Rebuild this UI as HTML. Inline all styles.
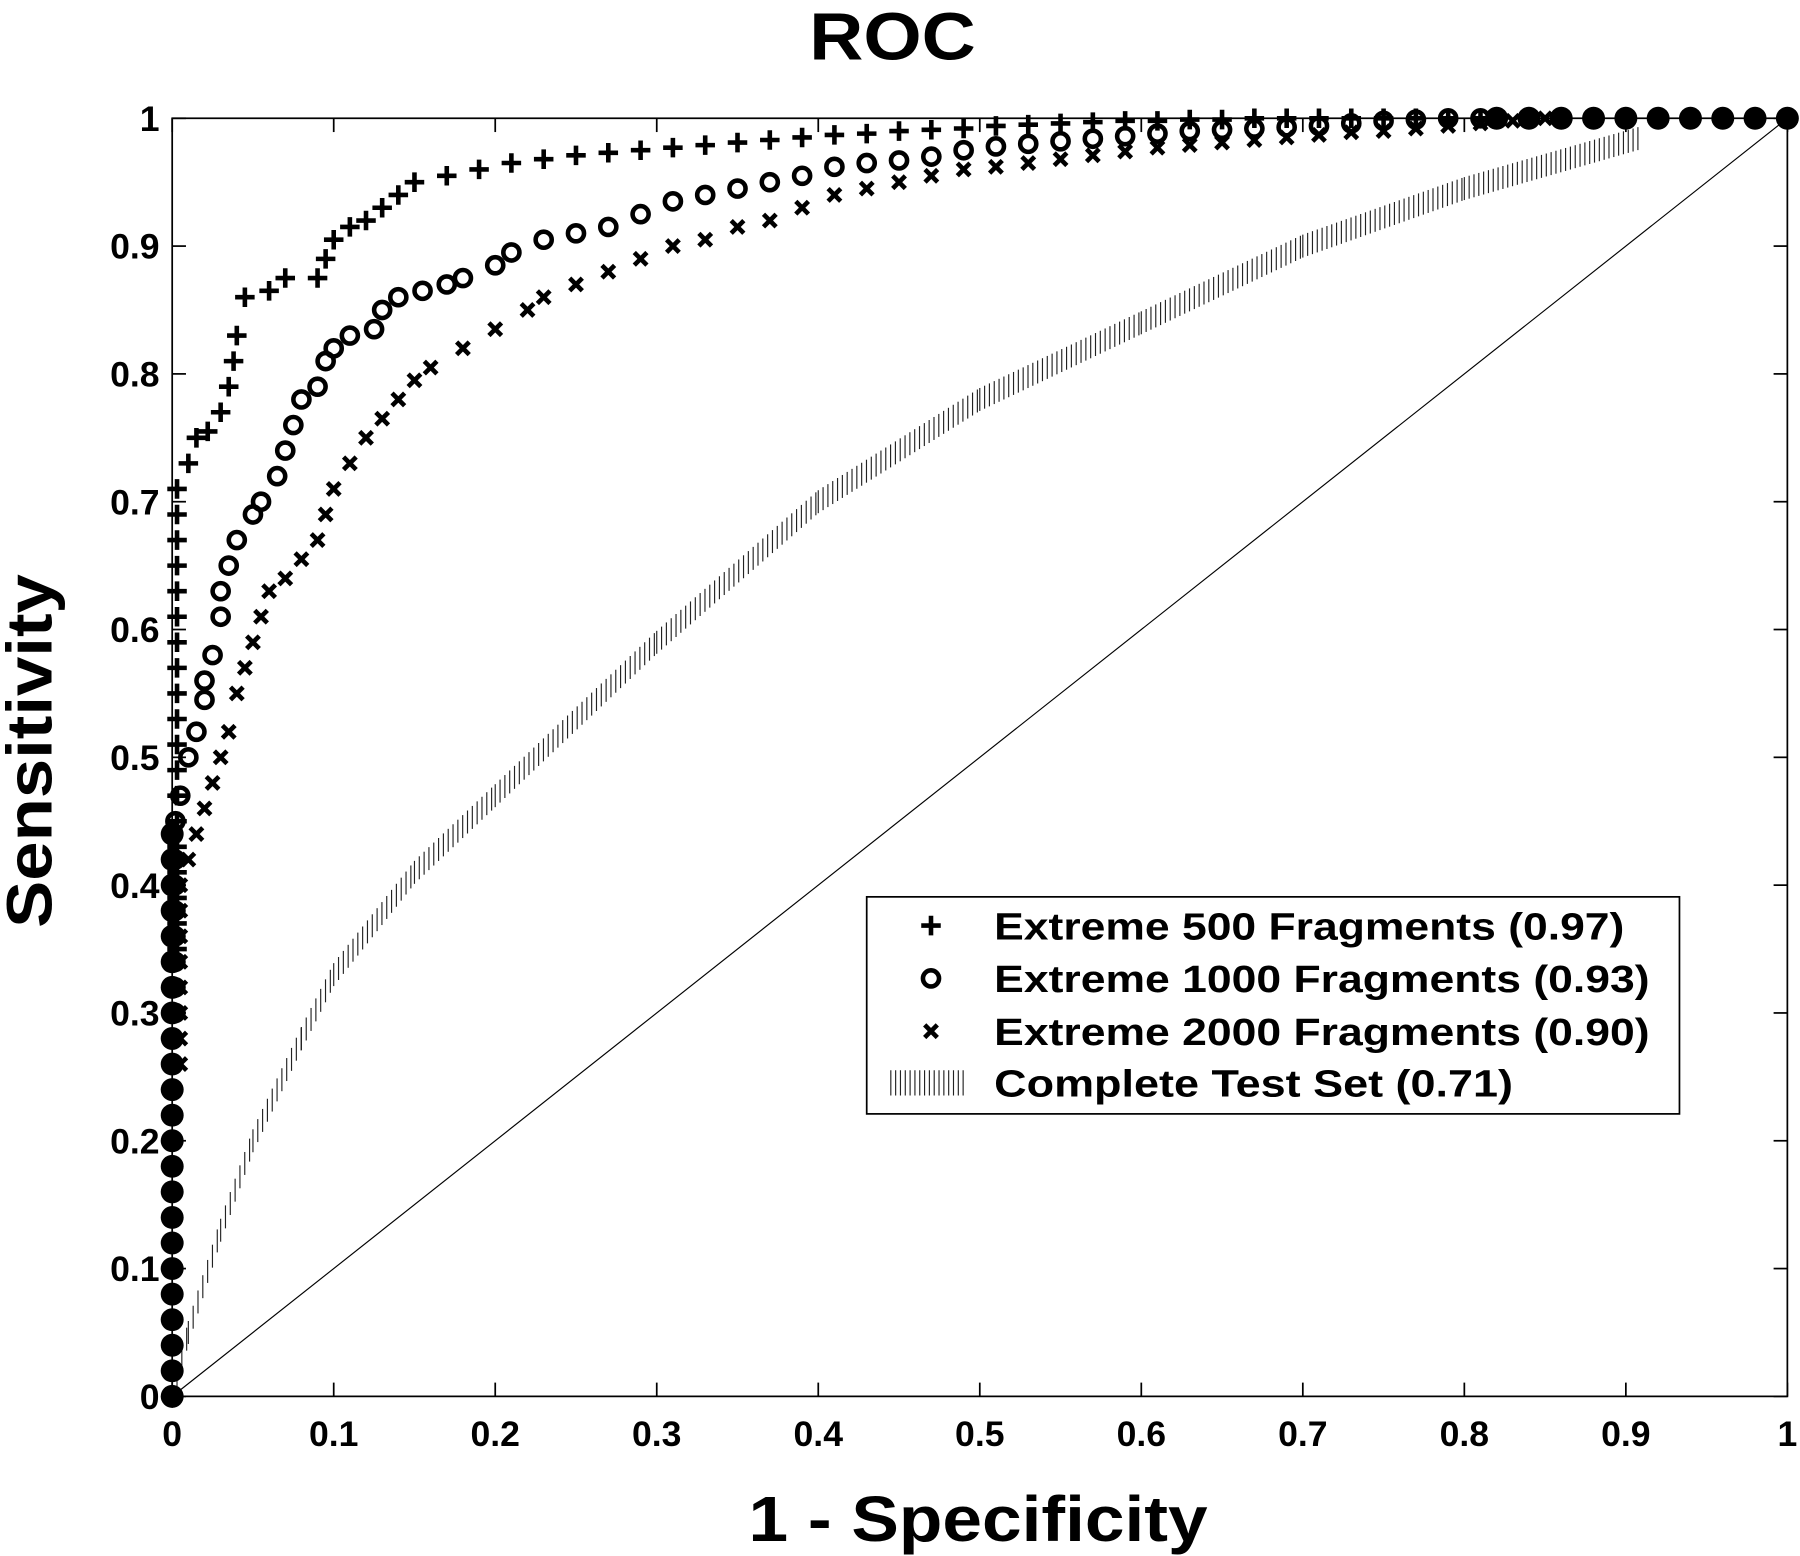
<!DOCTYPE html>
<html><head><meta charset="utf-8"><style>
html,body{margin:0;padding:0;background:#fff;}
svg{display:block;}
text{font-family:"Liberation Sans",Arial,sans-serif;font-weight:bold;fill:#000;}
</style></head><body>
<svg id="chart" width="1800" height="1556" viewBox="0 0 1568 1355" preserveAspectRatio="none" xmlns="http://www.w3.org/2000/svg">
<text x="705" y="52" font-size="58" textLength="145" lengthAdjust="spacingAndGlyphs">ROC</text>
<text x="652" y="1342" font-size="56" textLength="400" lengthAdjust="spacingAndGlyphs">1 - Specificity</text>
<text transform="translate(45,808) rotate(-90)" font-size="56" textLength="308" lengthAdjust="spacingAndGlyphs">Sensitivity</text>
<g id="axes"></g>
<g id="marks"></g>
<g>
<rect x="755" y="781" width="708" height="189" fill="#fff" stroke="#000" stroke-width="1.5"/>
<g id="legend-icons"></g>
<text x="866" y="818" font-size="33" textLength="549" lengthAdjust="spacingAndGlyphs">Extreme 500 Fragments (0.97)</text>
<text x="866" y="864" font-size="33" textLength="571" lengthAdjust="spacingAndGlyphs">Extreme 1000 Fragments (0.93)</text>
<text x="866" y="910" font-size="33" textLength="571" lengthAdjust="spacingAndGlyphs">Extreme 2000 Fragments (0.90)</text>
<text x="866" y="955" font-size="33" textLength="452" lengthAdjust="spacingAndGlyphs">Complete Test Set (0.71)</text>
</g>
</svg>
<script>
const xTicks=[0,0.1,0.2,0.3,0.4,0.5,0.6,0.7,0.8,0.9,1];
const xTickLabels=["0","0.1","0.2","0.3","0.4","0.5","0.6","0.7","0.8","0.9","1"];
const yTicks=[0,0.1,0.2,0.3,0.4,0.5,0.6,0.7,0.8,0.9,1];
const yTickLabels=["0","0.1","0.2","0.3","0.4","0.5","0.6","0.7","0.8","0.9","1"];
const s500x=[0.003,0.003,0.003,0.003,0.003,0.003,0.003,0.003,0.003,0.003,0.003,0.003,0.003,0.003,0.003,0.003,0.003,0.003,0.003,0.01,0.015,0.022,0.03,0.035,0.038,0.04,0.045,0.06,0.07,0.09,0.095,0.1,0.11,0.12,0.13,0.14,0.15,0.17,0.19,0.21,0.23,0.25,0.27,0.29,0.31,0.33,0.35,0.37,0.39,0.41,0.43,0.45,0.47,0.49,0.51,0.53,0.55,0.57,0.59,0.61,0.63,0.65,0.67,0.69,0.71,0.73,0.75,0.77,0.79,0.81];
const s500y=[0.35,0.37,0.39,0.41,0.43,0.45,0.47,0.49,0.51,0.53,0.55,0.57,0.59,0.61,0.63,0.65,0.67,0.69,0.71,0.73,0.75,0.755,0.77,0.79,0.81,0.83,0.86,0.865,0.875,0.875,0.89,0.905,0.915,0.92,0.93,0.94,0.95,0.955,0.96,0.965,0.968,0.971,0.973,0.975,0.977,0.979,0.981,0.983,0.985,0.987,0.988,0.99,0.991,0.992,0.994,0.995,0.996,0.997,0.998,0.998,0.999,0.999,1,1,1,1,1,1,1,1];
const s1000x=[0.002,0.002,0.002,0.002,0.002,0.002,0.002,0.002,0.005,0.01,0.015,0.02,0.02,0.025,0.03,0.03,0.035,0.04,0.05,0.055,0.065,0.07,0.075,0.08,0.09,0.095,0.1,0.11,0.125,0.13,0.14,0.155,0.17,0.18,0.2,0.21,0.23,0.25,0.27,0.29,0.31,0.33,0.35,0.37,0.39,0.41,0.43,0.45,0.47,0.49,0.51,0.53,0.55,0.57,0.59,0.61,0.63,0.65,0.67,0.69,0.71,0.73,0.75,0.77,0.79,0.81];
const s1000y=[0.3,0.32,0.34,0.36,0.38,0.4,0.42,0.45,0.47,0.5,0.52,0.545,0.56,0.58,0.61,0.63,0.65,0.67,0.69,0.7,0.72,0.74,0.76,0.78,0.79,0.81,0.82,0.83,0.835,0.85,0.86,0.865,0.87,0.875,0.885,0.895,0.905,0.91,0.915,0.925,0.935,0.94,0.945,0.95,0.955,0.962,0.965,0.967,0.97,0.975,0.978,0.98,0.982,0.984,0.986,0.988,0.99,0.991,0.992,0.993,0.994,0.996,0.998,0.999,1,1];
const s2000x=[0.005,0.005,0.005,0.005,0.005,0.005,0.005,0.005,0.01,0.015,0.02,0.025,0.03,0.035,0.04,0.045,0.05,0.055,0.06,0.07,0.08,0.09,0.095,0.1,0.11,0.12,0.13,0.14,0.15,0.16,0.18,0.2,0.22,0.23,0.25,0.27,0.29,0.31,0.33,0.35,0.37,0.39,0.41,0.43,0.45,0.47,0.49,0.51,0.53,0.55,0.57,0.59,0.61,0.63,0.65,0.67,0.69,0.71,0.73,0.75,0.77,0.79,0.81,0.83,0.85];
const s2000y=[0.26,0.28,0.3,0.32,0.34,0.36,0.38,0.4,0.42,0.44,0.46,0.48,0.5,0.52,0.55,0.57,0.59,0.61,0.63,0.64,0.655,0.67,0.69,0.71,0.73,0.75,0.765,0.78,0.795,0.805,0.82,0.835,0.85,0.86,0.87,0.88,0.89,0.9,0.905,0.915,0.92,0.93,0.94,0.945,0.95,0.955,0.96,0.962,0.965,0.968,0.971,0.974,0.977,0.979,0.981,0.983,0.985,0.987,0.989,0.99,0.992,0.994,0.996,0.998,1];
const dotsX=[0,0,0,0,0,0,0,0,0,0,0,0,0,0,0,0,0,0,0,0,0,0,0,0.82,0.84,0.86,0.88,0.9,0.92,0.94,0.96,0.98,1];
const dotsY=[0,0.02,0.04,0.06,0.08,0.1,0.12,0.14,0.16,0.18,0.2,0.22,0.24,0.26,0.28,0.3,0.32,0.34,0.36,0.38,0.4,0.42,0.44,1,1,1,1,1,1,1,1,1,1];
const fullX=[0,0.01,0.03,0.05,0.08,0.1,0.15,0.2,0.3,0.4,0.5,0.6,0.7,0.8,0.91];
const fullY=[0,0.05,0.13,0.2,0.28,0.33,0.41,0.47,0.59,0.7,0.78,0.84,0.9,0.945,0.985];

const NS="http://www.w3.org/2000/svg";
const X0=150,X1=1557,Y0=1216,Y1=103;
const sx=v=>X0+(X1-X0)*v, sy=v=>Y0-(Y0-Y1)*v;
const axes=document.getElementById('axes'),marks=document.getElementById('marks');
function mk(tag,attrs,parent){const e=document.createElementNS(NS,tag);for(const k in attrs)e.setAttribute(k,attrs[k]);parent.appendChild(e);return e;}
const frame=mk('rect',{x:X0,y:Y1,width:X1-X0,height:Y0-Y1,fill:'none',stroke:'#000','stroke-width':1.5},axes);


xTicks.forEach((v,i)=>{
 mk('line',{x1:sx(v),x2:sx(v),y1:Y0,y2:Y0-12,stroke:'#000','stroke-width':1.5},axes);
 mk('line',{x1:sx(v),x2:sx(v),y1:Y1,y2:Y1+12,stroke:'#000','stroke-width':1.5},axes);
 const t=mk('text',{x:sx(v),y:1259,'font-size':31,'text-anchor':'middle'},axes);t.textContent=xTickLabels[i];
 
 
});
yTicks.forEach((v,i)=>{
 mk('line',{x1:X0,x2:X0+12,y1:sy(v),y2:sy(v),stroke:'#000','stroke-width':1.5},axes);
 mk('line',{x1:X1,x2:X1-12,y1:sy(v),y2:sy(v),stroke:'#000','stroke-width':1.5},axes);
 const t=mk('text',{x:139,y:sy(v)+11,'font-size':31,'text-anchor':'end'},axes);t.textContent=yTickLabels[i];
 
 
});
const diag=mk('line',{x1:sx(0),y1:sy(0),x2:sx(1),y2:sy(1),stroke:'#000','stroke-width':1},marks);


const hg=mk('g',{},marks);


for(let i=0;i<fullX.length-1;i++){
 const ax=sx(fullX[i]),ay=sy(fullY[i]),bx=sx(fullX[i+1]),by=sy(fullY[i+1]);
 for(let px=ax;px<bx;px+=4.2){const py=ay+(by-ay)*(px-ax)/(bx-ax);
  mk('line',{x1:px,x2:px,y1:py-10,y2:py+10,stroke:'#222','stroke-width':1},hg);}
}
function plus(g,x,y,s){mk('path',{d:`M${x-s} ${y}H${x+s}M${x} ${y-s}V${y+s}`,stroke:'#000','stroke-width':4,fill:'none'},g);}
function circ(g,x,y,s){mk('circle',{cx:x,cy:y,r:s,stroke:'#000','stroke-width':4,fill:'none'},g);}
function cross(g,x,y,s){mk('path',{d:`M${x-s} ${y-s}L${x+s} ${y+s}M${x-s} ${y+s}L${x+s} ${y-s}`,stroke:'#000','stroke-width':4,fill:'none'},g);}
const g2000=mk('g',{},marks);


s2000x.forEach((v,i)=>cross(g2000,sx(v),sy(s2000y[i]),5.5));
const g1000=mk('g',{},marks);


s1000x.forEach((v,i)=>circ(g1000,sx(v),sy(s1000y[i]),7));
const g500=mk('g',{},marks);


s500x.forEach((v,i)=>plus(g500,sx(v),sy(s500y[i]),8.5));
const gd=mk('g',{},marks);


dotsX.forEach((v,i)=>mk('circle',{cx:sx(v),cy:sy(dotsY[i]),r:10,fill:'#000'},gd));
const li=document.getElementById('legend-icons');
plus(li,811,806,8.5);circ(li,811,852,7);cross(li,811,898,5.5);
for(let px=776;px<840;px+=4.2)mk('line',{x1:px,x2:px,y1:932,y2:954,stroke:'#222','stroke-width':1},li);
</script>
</body></html>
